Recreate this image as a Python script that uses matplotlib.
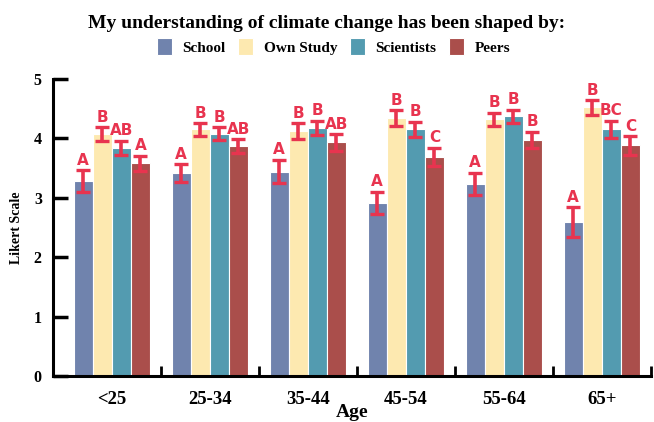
import numpy as np
import matplotlib.pyplot as plt
from matplotlib.ticker import FixedLocator

ages = ['<25', '25-34', '35-44', '45-54', '55-64', '65+']
sources = ['School', 'Own Study', 'Scientists', 'Peers']

school = [3.28, 3.42, 3.44, 2.91, 3.23, 2.59]
own_study = [4.07, 4.15, 4.12, 4.34, 4.32, 4.52]
scientists = [3.84, 4.08, 4.18, 4.15, 4.37, 4.15]
peers = [3.58, 3.87, 3.93, 3.69, 3.97, 3.88]

school_err = [0.18, 0.15, 0.20, 0.19, 0.19, 0.25]
own_study_err = [0.12, 0.11, 0.13, 0.13, 0.11, 0.12]
scientists_err = [0.12, 0.11, 0.12, 0.13, 0.11, 0.15]
peers_err = [0.13, 0.12, 0.14, 0.15, 0.14, 0.16]

school_grp = ['A', 'A', 'A', 'A', 'A', 'A']
own_study_grp = ['B', 'B', 'B', 'B', 'B', 'B']
scientists_grp = ['AB', 'B', 'B', 'B', 'B', 'BC']
peers_grp = ['A', 'AB', 'AB', 'C', 'B', 'C']

colors = ['#7083ad', '#fde9b0', '#539bb0', '#aa4e4b']
err_color = '#e8344f'
serif = 'Liberation Serif'

means = [school, own_study, scientists, peers]
errs = [school_err, own_study_err, scientists_err, peers_err]
groups = [school_grp, own_study_grp, scientists_grp, peers_grp]

fig = plt.figure(figsize=(6.54, 4.22), dpi=100)
ax = fig.add_axes([0.081, 0.109, 0.914, 0.704])

x = np.arange(len(ages))
w = 0.195
for i in range(4):
    pos = x + (i - 1.5) * w
    ax.bar(pos, means[i], w, color=colors[i], edgecolor='white', linewidth=0.8,
           label=sources[i], zorder=2)
    ax.errorbar(pos, means[i], yerr=errs[i], fmt='none', ecolor=err_color,
                elinewidth=2.6, capsize=5, capthick=2.4, zorder=3)
    for p, m, e, g in zip(pos, means[i], errs[i], groups[i]):
        ax.text(p, m + e + 0.04, g, ha='center', va='bottom', color=err_color,
                fontsize=11, fontweight='bold', family='DejaVu Sans')

ax.set_xlim(-0.6, 5.5)
ax.set_ylim(0, 5)
ax.set_xticks(x)
ax.set_xticklabels(ages, fontsize=13.5, fontweight='bold', family=serif)
ax.xaxis.set_minor_locator(FixedLocator(x + 0.5))
ax.tick_params(axis='x', which='major', length=0, pad=11)
ax.tick_params(axis='x', which='minor', direction='in', length=7, width=2)
ax.set_yticks([0, 1, 2, 3, 4, 5])
ax.set_yticklabels(['0', '1', '2', '3', '4', '5'], fontsize=11.5,
                   fontweight='bold', family=serif)
ax.tick_params(axis='y', direction='in', length=11, width=2.5, pad=8)

for s in ['top', 'right']:
    ax.spines[s].set_visible(False)
for s in ['left', 'bottom']:
    ax.spines[s].set_linewidth(2.2)

ax.set_xlabel('Age', fontsize=14, fontweight='bold', family=serif, labelpad=-3)
ax.set_ylabel('Likert Scale', fontsize=10, fontweight='bold', family=serif,
              labelpad=8)

fig.text(0.5, 0.945, 'My understanding of climate change has been shaped by:',
         ha='center', va='center', fontsize=14, fontweight='bold', family=serif)
fig.legend(loc='center', bbox_to_anchor=(0.51, 0.89), ncol=4, frameon=False,
           prop={'family': serif, 'weight': 'bold', 'size': 11},
           handlelength=1.0, handleheight=1.3, columnspacing=0.8,
           handletextpad=0.7)

fig.savefig('out.png', dpi=100)
